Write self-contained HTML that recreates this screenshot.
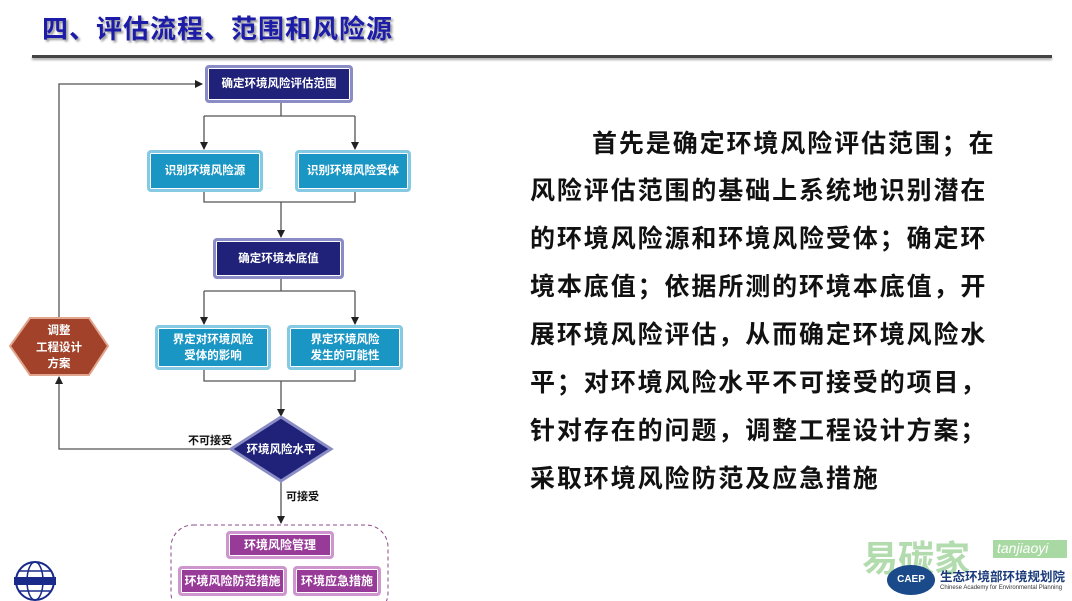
<!DOCTYPE html>
<html><head><meta charset="utf-8"><style>
body{margin:0;width:1072px;height:601px;overflow:hidden;background:#fff;position:relative;font-family:"Liberation Sans","Noto Sans CJK SC",sans-serif;}
.t{position:absolute;left:42px;top:9px;font-size:26px;font-weight:bold;color:#1c1ca8;letter-spacing:1px;text-shadow:2px 2px 2px #9a9a9a;font-family:"Liberation Sans","Noto Sans CJK SC",sans-serif;}
.rule{position:absolute;left:32px;top:55px;width:1020px;height:3px;background:#444;box-shadow:0 2px 2px #aaa;}
.b{position:absolute;box-sizing:border-box;display:flex;align-items:center;justify-content:center;text-align:center;color:#fff;font-weight:bold;font-size:11.5px;line-height:16px;border-radius:4px;}
.nv{background:#1f2278;border:3px solid #8a8cc6;box-shadow:inset 0 0 0 1px #fff;}
.cy{background:#1a96c4;border:3px solid #86c9e3;box-shadow:inset 0 0 0 1px #fff;}
.pu{background:#973a98;border:3px solid #cf95cf;box-shadow:inset 0 0 0 1px #fff;font-size:12px;white-space:nowrap;}
.r{position:absolute;left:530px;font-size:25px;font-weight:bold;color:#111;letter-spacing:1.9px;white-space:nowrap;}
.lb{position:absolute;font-size:11px;font-weight:bold;color:#111;}
</style></head><body>
<div class="t">四、评估流程、范围和风险源</div>
<div class="rule"></div>
<svg width="1072" height="601" style="position:absolute;left:0;top:0">
<defs><marker id="a" markerWidth="8" markerHeight="8" refX="7" refY="4" orient="auto" markerUnits="userSpaceOnUse"><path d="M0,0 L8,4 L0,8 z" fill="#222"/></marker></defs>
<g stroke="#555" stroke-width="1.3" fill="none">
<path d="M281,103 V116 M204,116 H355"/>
<path d="M204,116 V149" marker-end="url(#a)"/><path d="M355,116 V149" marker-end="url(#a)"/>
<path d="M204,192 V202 H355 V192"/>
<path d="M281,202 V237" marker-end="url(#a)"/>
<path d="M281,279 V291 M204,291 H355"/>
<path d="M204,291 V324" marker-end="url(#a)"/><path d="M355,291 V324" marker-end="url(#a)"/>
<path d="M204,370 V381 H355 V370"/>
<path d="M281,381 V416" marker-end="url(#a)"/>
<path d="M231,449 H59 V377" marker-end="url(#a)"/>
<path d="M59,317 V84 H202" marker-end="url(#a)"/>
<path d="M281,482 V523" marker-end="url(#a)"/>
</g>
<rect x="171" y="525" width="217" height="90" rx="22" fill="none" stroke="#8b4a8b" stroke-dasharray="4,3"/>
<polygon points="281,417 331,449 281,481 231,449" fill="#1f2278" stroke="#8a8cc6" stroke-width="3"/>
<text x="281" y="453" fill="#fff" font-size="11.5" font-weight="bold" text-anchor="middle" font-family="Liberation Sans,Noto Sans CJK SC,sans-serif">环境风险水平</text>
<polygon points="30,318 89,318 108,346 89,375 30,375 10,346" fill="#a2422a" stroke="#e0a58c" stroke-width="2"/>
<text fill="#fff" font-size="11.5" font-weight="bold" text-anchor="middle" font-family="Liberation Sans,Noto Sans CJK SC,sans-serif"><tspan x="59" y="334">调整</tspan><tspan x="59" y="351">工程设计</tspan><tspan x="59" y="367">方案</tspan></text>
<circle cx="35" cy="581" r="19" fill="none" stroke="#1a2a8a" stroke-width="2"/>
<ellipse cx="35" cy="581" rx="8" ry="19" fill="none" stroke="#1a2a8a" stroke-width="1.5"/>
<path d="M16,581 H54 M19,571 H51 M19,591 H51" stroke="#1a2a8a" stroke-width="1.5"/>
<rect x="14" y="577" width="42" height="8" fill="#1a2a8a"/>
</svg>
<div class="b nv" style="left:205px;top:65px;width:148px;height:38px">确定环境风险评估范围</div>
<div class="b cy" style="left:147px;top:150px;width:116px;height:42px">识别环境风险源</div>
<div class="b cy" style="left:295px;top:150px;width:116px;height:42px">识别环境风险受体</div>
<div class="b nv" style="left:213px;top:238px;width:131px;height:41px">确定环境本底值</div>
<div class="b cy" style="left:155px;top:325px;width:116px;height:45px">界定对环境风险<br>受体的影响</div>
<div class="b cy" style="left:287px;top:325px;width:116px;height:45px">界定环境风险<br>发生的可能性</div>
<div class="lb" style="left:188px;top:432px">不可接受</div>
<div class="lb" style="left:286px;top:488px">可接受</div>
<div class="b pu" style="left:226px;top:531px;width:108px;height:28px">环境风险管理</div>
<div class="b pu" style="left:178px;top:566px;width:109px;height:30px">环境风险防范措施</div>
<div class="b pu" style="left:293px;top:566px;width:88px;height:30px">环境应急措施</div>
<div class="r" style="top:124px;left:592px">首先是确定环境风险评估范围；在</div>
<div class="r" style="top:171px">风险评估范围的基础上系统地识别潜在</div>
<div class="r" style="top:219px">的环境风险源和环境风险受体；确定环</div>
<div class="r" style="top:267px">境本底值；依据所测的环境本底值，开</div>
<div class="r" style="top:315px">展环境风险评估，从而确定环境风险水</div>
<div class="r" style="top:363px">平；对环境风险水平不可接受的项目，</div>
<div class="r" style="top:411px">针对存在的问题，调整工程设计方案；</div>
<div class="r" style="top:459px">采取环境风险防范及应急措施</div>
<div style="position:absolute;left:862px;top:530px;font-size:36px;color:#9fd39a;font-weight:bold;opacity:.8">易碳家</div>
<div style="position:absolute;left:993px;top:540px;width:70px;height:18px;background:#a9d9a3;color:#fff;font-size:14px;font-style:italic;padding-left:4px">tanjiaoyi</div>
<div style="position:absolute;left:887px;top:565px;width:48px;height:30px;border-radius:50%;background:#1a4a8a;color:#fff;font-size:10px;font-weight:bold;text-align:center;line-height:30px">CAEP</div>
<div style="position:absolute;left:940px;top:566px;font-size:12.5px;font-weight:bold;color:#1a3a7a">生态环境部环境规划院</div>
<div style="position:absolute;left:940px;top:585px;font-size:6px;color:#333">Chinese Academy for Environmental Planning</div>
</body></html>
